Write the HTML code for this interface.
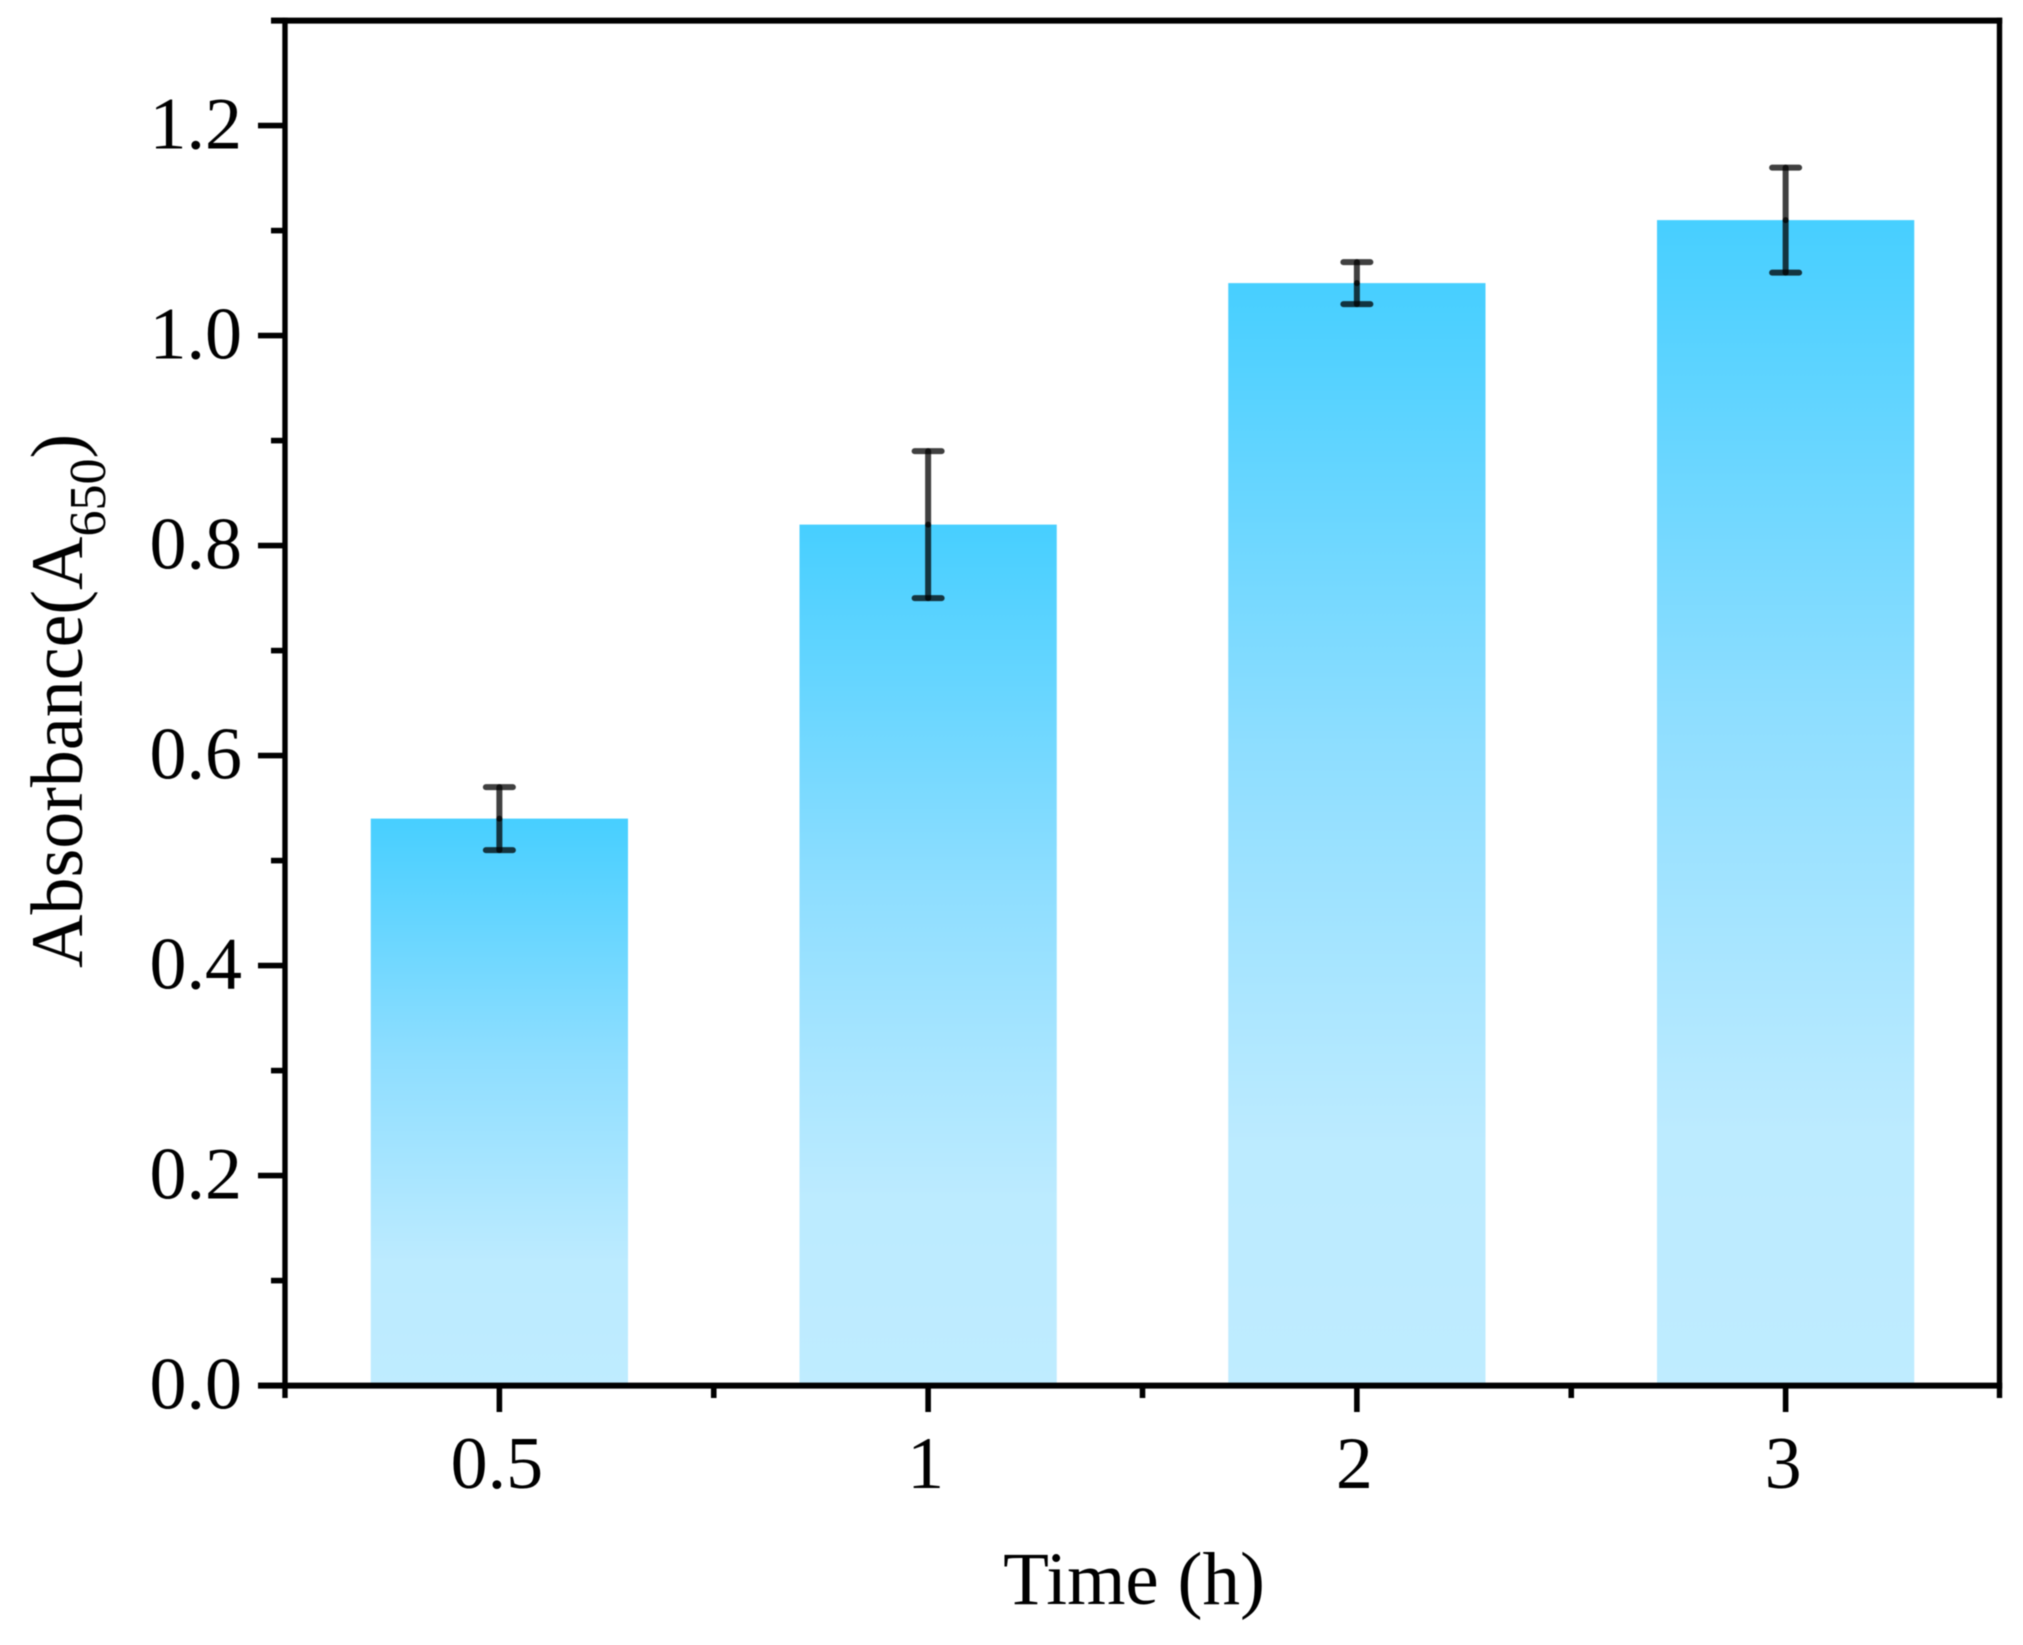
<!DOCTYPE html>
<html lang="en">
<head>
<meta charset="utf-8">
<title>Absorbance over time</title>
<style>
html,body{margin:0;padding:0;background:#fff;}
svg{display:block;filter:blur(0.6px);}
text{font-family:"Liberation Serif",serif;fill:#000;}
</style>
</head>
<body>
<svg id="chart" xmlns="http://www.w3.org/2000/svg" width="2023" height="1645" viewBox="0 0 2023 1645">
<defs>
<linearGradient id="bar-gradient" x1="0" y1="0" x2="0" y2="1">
<stop offset="0" stop-color="#47cfff"/>
<stop offset="0.42" stop-color="#8edeff"/>
<stop offset="0.78" stop-color="#bcebff"/>
<stop offset="1" stop-color="#bfecff"/>
</linearGradient>
</defs>
<rect x="-5" y="-5" width="2033" height="1655" fill="#fff"/>
<g id="bars"></g>
<g id="errors"></g>
<g id="axes"></g>
<text x="1134" y="1604" font-size="75" text-anchor="middle">Time (h)</text>
<text transform="translate(82 968) rotate(-90)" font-size="74">Absorbance(A<tspan font-size="52" dy="23">650</tspan><tspan dy="-23">)</tspan></text>
</svg>
<script>
const categories = ['0.5', '1', '2', '3'];
const absorbance = [0.54, 0.82, 1.05, 1.11];
const errorHigh = [0.57, 0.89, 1.07, 1.16];
const errorLow = [0.51, 0.75, 1.03, 1.06];
const yMajorTicks = ['0.0', '0.2', '0.4', '0.6', '0.8', '1.0', '1.2'];
const yMinorTicks = [0.1, 0.3, 0.5, 0.7, 0.9, 1.1, 1.3];
const yMax = 1.3;

const NS = 'http://www.w3.org/2000/svg';
const plotLeft = 285, plotRight = 2000, plotTop = 20.6, plotBottom = 1385.6;
const barFraction = 0.6;

function yScale(v) {
  return plotBottom - (v / yMax) * (plotBottom - plotTop);
}
function bandWidth() {
  return (plotRight - plotLeft) / categories.length;
}
function xScale(i) {
  return plotLeft + (i + 0.5) * bandWidth();
}
function make(tag, attrs, parent) {
  const el = document.createElementNS(NS, tag);
  for (const k in attrs) el.setAttribute(k, attrs[k]);
  parent.appendChild(el);
  return el;
}

const barsG = document.getElementById('bars');
const errorsG = document.getElementById('errors');
const axesG = document.getElementById('axes');

absorbance.forEach(function (v, i) {
  const w = bandWidth() * barFraction;
  const bar = make('rect', {x: xScale(i) - w / 2, y: yScale(v), width: w, height: plotBottom - yScale(v), fill: 'url(#bar-gradient)'}, barsG);
  
  
});

absorbance.forEach(function (v, i) {
  const x = xScale(i);
  const group = make('g', {stroke: '#000', 'stroke-opacity': 0.75, 'stroke-linecap': 'round', fill: 'none'}, errorsG);
  
  
  make('line', {x1: x, x2: x, y1: yScale(v), y2: yScale(errorHigh[i]), 'stroke-width': 6}, group);
  make('line', {x1: x, x2: x, y1: yScale(v), y2: yScale(errorLow[i]), 'stroke-width': 6}, group);
  make('line', {x1: x - 13.5, x2: x + 13.5, y1: yScale(errorHigh[i]), y2: yScale(errorHigh[i]), 'stroke-width': 6}, group);
  make('line', {x1: x - 13.5, x2: x + 13.5, y1: yScale(errorLow[i]), y2: yScale(errorLow[i]), 'stroke-width': 6}, group);
});

const frame = [
  ['axis-left', plotLeft, plotTop - 2.8, plotLeft, 1398, 5.4],
  ['axis-right', plotRight - 0.5, plotTop - 2.8, plotRight - 0.5, 1398, 5.4],
  ['axis-top', 271, plotTop, plotRight + 2.2, plotTop, 6],
  ['axis-bottom', 258, plotBottom, plotRight + 2.2, plotBottom, 6]
];
frame.forEach(function (f) {
  const line = make('line', {x1: f[1], y1: f[2], x2: f[3], y2: f[4], stroke: '#000', 'stroke-width': f[5]}, axesG);
  
  
});

yMajorTicks.forEach(function (label) {
  const y = yScale(parseFloat(label));
  const tick = make('line', {x1: 258, x2: plotLeft, y1: y, y2: y, stroke: '#000', 'stroke-width': 5.6}, axesG);
  
  
  const text = make('text', {x: 242, y: y + 23, 'font-size': 74, 'text-anchor': 'end'}, axesG);
  text.textContent = label;
  
  
});

yMinorTicks.forEach(function (v) {
  const y = yScale(v);
  const tick = make('line', {x1: 271, x2: plotLeft, y1: y, y2: y, stroke: '#000', 'stroke-width': 5.6}, axesG);
  
  
});

categories.forEach(function (label, i) {
  const x = xScale(i);
  const tick = make('line', {x1: x, x2: x, y1: plotBottom, y2: 1412, stroke: '#000', 'stroke-width': 5.6}, axesG);
  
  
  const text = make('text', {x: x - 2.5, y: 1488, 'font-size': 74, 'text-anchor': 'middle'}, axesG);
  text.textContent = label;
  
  
  if (i > 0) {
    const minorX = x - bandWidth() / 2;
    const minor = make('line', {x1: minorX, x2: minorX, y1: plotBottom, y2: 1398, stroke: '#000', 'stroke-width': 5.6}, axesG);
    
    
  }
});
</script>
</body>
</html>
